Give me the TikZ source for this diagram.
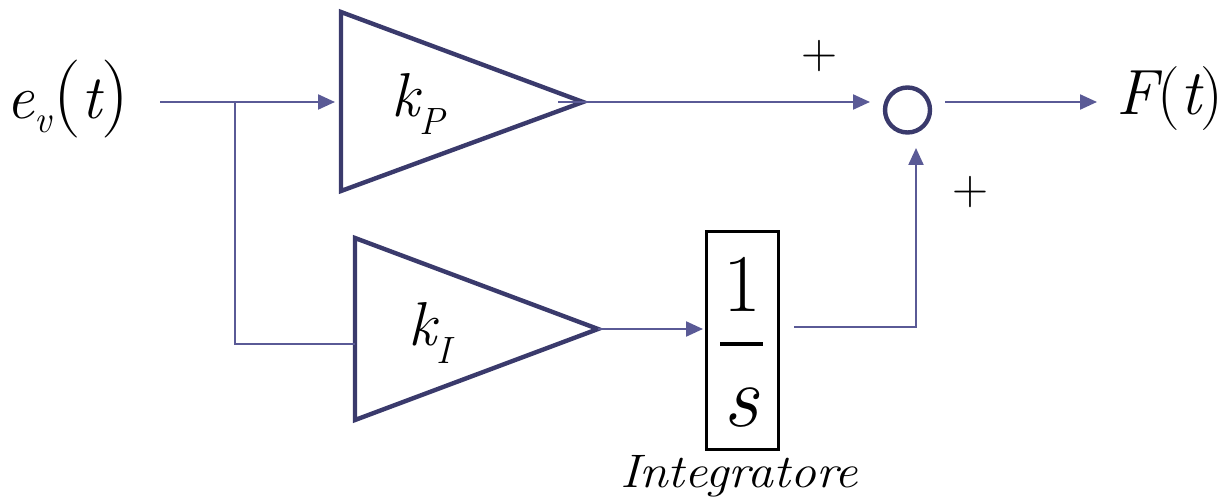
\documentclass[tikz,border=0pt]{standalone}
\usetikzlibrary{arrows.meta}
\definecolor{wirec}{HTML}{5A5A96}
\definecolor{blkc}{HTML}{3A3A6C}
\begin{document}
\begin{tikzpicture}[x=0.5pt,y=-0.5pt,
  wire/.style={draw=wirec,line width=1.1pt},
  arr/.style={wire,-{Triangle[length=8.5pt,width=7.5pt]}},
  amp/.style={draw=blkc,line width=2.2pt,line join=miter},
  lbl/.style={inner sep=0pt,anchor=center}]
\useasboundingbox (0,0) rectangle (1225,502);
% amplifiers
\draw[amp] (341,12) -- (583,102) -- (341,191) -- cycle;
\draw[amp] (355,238) -- (598,329) -- (355,420) -- cycle;
\coordinate (kPin) at (335,102);
\coordinate (kPout) at (558,102);
\coordinate (kIin) at (355,344);
\coordinate (kIout) at (598,329);
% integrator box
\node[draw=black,line width=1.2pt,minimum width=36pt,minimum height=109pt,inner sep=0pt] (integ) at (742.5,340.5) {};
\node[lbl] (one) at (742,284) {\fontsize{41}{41}\selectfont 1};
\draw[line width=1.6pt] (720,344) -- (763,344);
\node[lbl] (s) at (741,408) {\fontsize{44}{44}\selectfont\itshape s};
\node[lbl] (intlbl) at (739,476) {\scalebox{1.1}[1]{\fontsize{23.5}{23.5}\selectfont\itshape Integratore}};
% summing junction
\node[circle,draw=blkc,line width=2.2pt,minimum size=22.5pt,inner sep=0pt] (sum) at (907.5,110) {};
% coordinates
\coordinate (in) at (160,102);
\coordinate (br) at (235,102);
\coordinate (sumL) at (870,102);
\coordinate (sumB) at (916,148);
\coordinate (intout) at (794,327);
\coordinate (corner) at (916,327);
\coordinate (outS) at (945,102);
\coordinate (outE) at (1097,102);
% wires
\draw[arr] (in) -- (kPin);
\draw[wire] (br) |- (kIin);
\draw[arr] (kPout) -- (sumL);
\draw[arr] (kIout) -- (703,329);
\draw[arr] (intout) -- (corner) -- (sumB);
\draw[arr] (outS) -- (outE);
% labels
\node[lbl] (ev) at (68,99) {\fontsize{31}{31}\selectfont\itshape e\raisebox{-7pt}{\fontsize{19}{19}\selectfont v}\kern1pt{\fontsize{39}{39}\selectfont\upshape(}t{\fontsize{39}{39}\selectfont\upshape)}};
\node[lbl] (Ft) at (1170,99) {\fontsize{32}{32}\selectfont\itshape F{\upshape(}t{\upshape)}};
\node[lbl] (kP) at (418,104) {\fontsize{31}{31}\selectfont\itshape k\raisebox{-9pt}{\fontsize{19}{19}\selectfont P}};
\node[lbl] (kI) at (430,333) {\fontsize{31}{31}\selectfont\itshape k\raisebox{-9pt}{\fontsize{19}{19}\selectfont I}};
\node[lbl] (p1) at (819,56) {\fontsize{25}{25}\selectfont +};
\node[lbl] (p2) at (970,192) {\fontsize{25}{25}\selectfont +};
\end{tikzpicture}
\end{document}
